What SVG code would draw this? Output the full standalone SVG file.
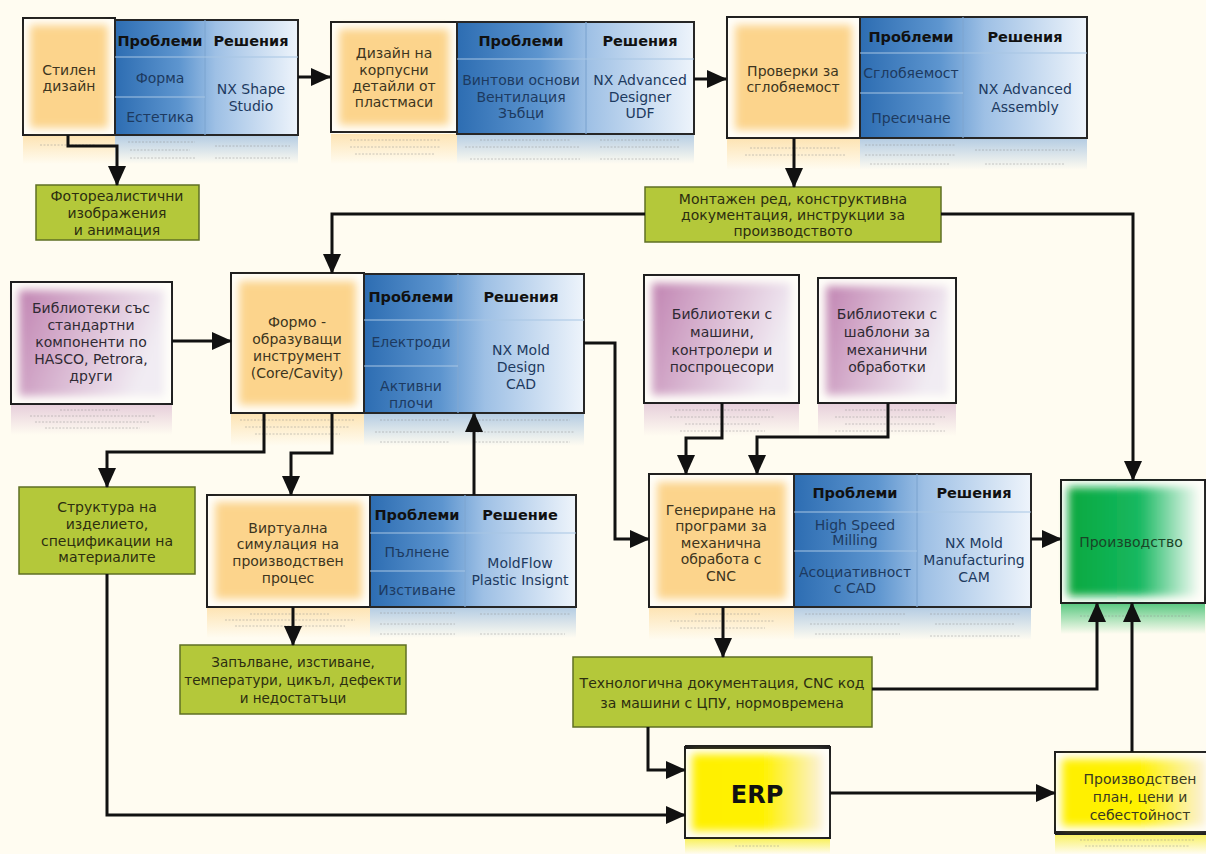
<svg xmlns="http://www.w3.org/2000/svg" width="1206" height="854" viewBox="0 0 1206 854">
<defs>
<style>
text{font-family:"DejaVu Sans","Liberation Sans",sans-serif;font-size:14px;text-anchor:middle}
.frame{fill:#fffef9;stroke:#1e1e1e;stroke-width:2}
.tbl{fill:url(#gTbl);stroke:#262626;stroke-width:2}
.div{stroke:#a8c5e4;stroke-width:1.2;fill:none}
.vdiv{stroke:#7fa7d2;stroke-width:1.2;fill:none}
.hd{font-weight:bold;fill:#111;font-size:14.5px}
.tb{fill:#1d3a60}
.ot{fill:#3d3520}
.pt{fill:#2f2a33}
.gbox{fill:#b4c83a;stroke:#5f6f25;stroke-width:1.5}
.gt{fill:#2c2e10}
.glowO{fill:#fcd48c}
.glowP{fill:url(#gPur)}
.conn path{fill:none;stroke:#111;stroke-width:3;marker-end:url(#ah)}
.rO{fill:url(#rOr)}
.rB{fill:url(#rBl)}
.rP{fill:url(#rPu)}
.rG{fill:url(#rGr)}
.rY{fill:url(#rYe)}
.sq{stroke:#8a8a8a;stroke-width:1;stroke-dasharray:2 1.5;opacity:.45}
</style>
<filter id="blur" x="-20%" y="-20%" width="140%" height="140%"><feGaussianBlur stdDeviation="4"/></filter>
<linearGradient id="gTbl" x1="0" y1="0" x2="1" y2="0">
<stop offset="0" stop-color="#2d6db2"/><stop offset="0.35" stop-color="#5d95cf"/><stop offset="0.55" stop-color="#9ec0e5"/><stop offset="1" stop-color="#eef4fb"/>
</linearGradient>
<linearGradient id="gPur" x1="0" y1="0" x2="1" y2="0.3">
<stop offset="0" stop-color="#c184b2"/><stop offset="0.5" stop-color="#dab9d3"/><stop offset="1" stop-color="#f1ecf3"/>
</linearGradient>
<linearGradient id="gGrn" x1="0" y1="0" x2="1" y2="0">
<stop offset="0" stop-color="#0aa83f"/><stop offset="0.55" stop-color="#15b860"/><stop offset="1" stop-color="#f3faf3"/>
</linearGradient>
<linearGradient id="gYel" x1="0" y1="0" x2="1" y2="0">
<stop offset="0" stop-color="#fff000"/><stop offset="0.55" stop-color="#fff200"/><stop offset="1" stop-color="#fbf1dc"/>
</linearGradient>
<linearGradient id="rOr" x1="0" y1="0" x2="0" y2="1"><stop offset="0" stop-color="#fcd48c" stop-opacity=".6"/><stop offset="1" stop-color="#fcd48c" stop-opacity="0"/></linearGradient>
<linearGradient id="rBl" x1="0" y1="0" x2="0" y2="1"><stop offset="0" stop-color="#7aa7d8" stop-opacity=".55"/><stop offset="1" stop-color="#7aa7d8" stop-opacity="0"/></linearGradient>
<linearGradient id="rPu" x1="0" y1="0" x2="0" y2="1"><stop offset="0" stop-color="#d7b2cd" stop-opacity=".6"/><stop offset="1" stop-color="#d7b2cd" stop-opacity="0"/></linearGradient>
<linearGradient id="rGr" x1="0" y1="0" x2="0" y2="1"><stop offset="0" stop-color="#19b455" stop-opacity=".7"/><stop offset="1" stop-color="#19b455" stop-opacity="0"/></linearGradient>
<linearGradient id="rYe" x1="0" y1="0" x2="0" y2="1"><stop offset="0" stop-color="#f6ec20" stop-opacity=".7"/><stop offset="1" stop-color="#f6ec20" stop-opacity="0"/></linearGradient>
<marker id="ah" markerUnits="userSpaceOnUse" markerWidth="20" markerHeight="18" viewBox="0 0 20 18" refX="19" refY="9" orient="auto">
<path d="M0,0 L20,9 L0,18 z" fill="#111"/>
</marker>
</defs>
<rect width="1206" height="854" fill="#fffcf1"/>

<g id="n-stilen">
<rect class="rO" x="23" y="136" width="92" height="28"/>
<rect class="rB" x="115" y="136" width="183" height="28"/>
<path class="sq" d="M40,145 H95 M128,142 H195 M130,150 H190 M130,158 H195 M215,146 H290 M215,158 H290"/>
<rect class="frame" x="23" y="18" width="92" height="117"/>
<rect class="glowO" x="30" y="25" width="78" height="103" filter="url(#blur)"/>
<text class="ot" x="69" y="75">Стилен</text>
<text class="ot" x="69" y="91">дизайн</text>
<rect class="tbl" x="115" y="20" width="183" height="115"/>
<path class="vdiv" d="M205,20 V135"/>
<path class="div" d="M115,57 H298 M115,97 H205"/>
<text class="hd" x="160" y="46">Проблеми</text>
<text class="hd" x="251" y="46">Решения</text>
<text class="tb" x="160" y="83">Форма</text>
<text class="tb" x="160" y="122">Естетика</text>
<text class="tb" x="251" y="94">NX Shape</text>
<text class="tb" x="251" y="111">Studio</text>
</g>

<g id="n-foto">
<rect class="gbox" x="36" y="185" width="163" height="55"/>
<text class="gt" x="117" y="201">Фотореалистични</text>
<text class="gt" x="117" y="218">изображения</text>
<text class="gt" x="117" y="235">и анимация</text>
</g>

<g id="n-korpus">
<rect class="rO" x="331" y="134" width="126" height="30"/>
<rect class="rB" x="457" y="134" width="237" height="30"/>
<path class="sq" d="M350,140 H440 M350,147 H440 M355,154 H435 M480,140 H570 M465,147 H580 M600,140 H680 M600,147 H680 M470,159 H580 M600,159 H680"/>
<rect class="frame" x="331" y="22" width="126" height="110"/>
<rect class="glowO" x="339" y="29" width="110" height="96" filter="url(#blur)"/>
<text class="ot" x="394" y="58">Дизайн на</text>
<text class="ot" x="394" y="75">корпусни</text>
<text class="ot" x="394" y="91">детайли от</text>
<text class="ot" x="394" y="107">пластмаси</text>
<rect class="tbl" x="457" y="22" width="237" height="112"/>
<path class="vdiv" d="M586,22 V134"/>
<path class="div" d="M457,59 H694"/>
<text class="hd" x="521" y="46">Проблеми</text>
<text class="hd" x="640" y="46">Решения</text>
<text class="tb" x="521" y="85">Винтови основи</text>
<text class="tb" x="521" y="102">Вентилация</text>
<text class="tb" x="521" y="118">Зъбци</text>
<text class="tb" x="640" y="85">NX Advanced</text>
<text class="tb" x="640" y="102">Designer</text>
<text class="tb" x="640" y="118">UDF</text>
</g>

<g id="n-proverki">
<rect class="rO" x="727" y="139" width="133" height="31"/>
<rect class="rB" x="860" y="139" width="227" height="31"/>
<path class="sq" d="M750,148 H840 M745,155 H845 M865,145 H955 M865,155 H955 M870,164 H950 M975,150 H1075 M985,164 H1065"/>
<rect class="frame" x="727" y="17" width="133" height="121"/>
<rect class="glowO" x="735" y="25" width="117" height="105" filter="url(#blur)"/>
<text class="ot" x="793" y="76">Проверки за</text>
<text class="ot" x="793" y="92">сглобяемост</text>
<rect class="tbl" x="860" y="17" width="227" height="121"/>
<path class="vdiv" d="M963,17 V138"/>
<path class="div" d="M860,53 H1087 M860,93 H963"/>
<text class="hd" x="911" y="42">Проблеми</text>
<text class="hd" x="1025" y="42">Решения</text>
<text class="tb" x="911" y="78">Сглобяемост</text>
<text class="tb" x="911" y="123">Пресичане</text>
<text class="tb" x="1025" y="94">NX Advanced</text>
<text class="tb" x="1025" y="112">Assembly</text>
</g>

<g id="n-montazh">
<rect class="gbox" x="645" y="187" width="296" height="55"/>
<text class="gt" x="793" y="204">Монтажен ред, конструктивна</text>
<text class="gt" x="793" y="220">документация, инструкции за</text>
<text class="gt" x="793" y="236">производството</text>
</g>

<g id="n-biblio-std">
<rect class="rP" x="11" y="405" width="161" height="30"/>
<path class="sq" d="M60,410 H120 M30,416 H155 M35,422 H150 M45,428 H140"/>
<rect class="frame" x="11" y="282" width="161" height="122"/>
<rect class="glowP" x="19" y="290" width="145" height="106" filter="url(#blur)"/>
<text class="pt" x="91" y="313">Библиотеки със</text>
<text class="pt" x="91" y="330">стандартни</text>
<text class="pt" x="91" y="347">компоненти по</text>
<text class="pt" x="91" y="364">HASCO, Petrora,</text>
<text class="pt" x="91" y="381">други</text>
</g>

<g id="n-formo">
<rect class="rO" x="231" y="414" width="133" height="32"/>
<rect class="rB" x="364" y="414" width="220" height="32"/>
<path class="sq" d="M240,420 H355 M245,427 H350 M255,434 H340 M380,420 H450 M375,432 H455 M475,420 H570 M470,432 H575 M380,442 H450 M475,442 H570"/>
<rect class="frame" x="231" y="273" width="133" height="140"/>
<rect class="glowO" x="239" y="281" width="117" height="124" filter="url(#blur)"/>
<text class="ot" x="297" y="327">Формо -</text>
<text class="ot" x="297" y="344">образуващи</text>
<text class="ot" x="297" y="361">инструмент</text>
<text class="ot" x="297" y="378">(Core/Cavity)</text>
<rect class="tbl" x="364" y="274" width="220" height="139"/>
<path class="vdiv" d="M458,274 V413"/>
<path class="div" d="M364,320 H584 M364,366 H458"/>
<text class="hd" x="411" y="302">Проблеми</text>
<text class="hd" x="521" y="302">Решения</text>
<text class="tb" x="411" y="347">Електроди</text>
<text class="tb" x="411" y="391">Активни</text>
<text class="tb" x="411" y="408">плочи</text>
<text class="tb" x="521" y="355">NX Mold</text>
<text class="tb" x="521" y="372">Design</text>
<text class="tb" x="521" y="389">CAD</text>
</g>

<g id="n-biblio-mash">
<rect class="rP" x="644" y="404" width="155" height="32"/>
<path class="sq" d="M675,410 H770 M670,417 H775 M685,424 H760 M680,431 H765"/>
<rect class="frame" x="644" y="275" width="155" height="128"/>
<rect class="glowP" x="652" y="283" width="139" height="112" filter="url(#blur)"/>
<text class="pt" x="722" y="319">Библиотеки с</text>
<text class="pt" x="722" y="337">машини,</text>
<text class="pt" x="722" y="355">контролери и</text>
<text class="pt" x="722" y="372">поспроцесори</text>
</g>

<g id="n-biblio-shabl">
<rect class="rP" x="818" y="404" width="138" height="32"/>
<path class="sq" d="M845,410 H935 M835,417 H945 M845,424 H935 M835,431 H945"/>
<rect class="frame" x="818" y="278" width="138" height="125"/>
<rect class="glowP" x="826" y="286" width="122" height="109" filter="url(#blur)"/>
<text class="pt" x="887" y="319">Библиотеки с</text>
<text class="pt" x="887" y="337">шаблони за</text>
<text class="pt" x="887" y="355">механични</text>
<text class="pt" x="887" y="372">обработки</text>
</g>

<g id="n-struktura">
<rect class="gbox" x="19" y="487" width="176" height="87"/>
<text class="gt" x="107" y="512">Структура на</text>
<text class="gt" x="107" y="529">изделието,</text>
<text class="gt" x="107" y="546">спецификации на</text>
<text class="gt" x="107" y="562">материалите</text>
</g>

<g id="n-virtual">
<rect class="rO" x="207" y="608" width="163" height="30"/>
<rect class="rB" x="370" y="608" width="206" height="30"/>
<path class="sq" d="M250,614 H330 M225,620 H355 M235,626 H345 M380,613 H455 M380,624 H455 M380,634 H455 M480,614 H570 M480,634 H565"/>
<rect class="frame" x="207" y="495" width="163" height="112"/>
<rect class="glowO" x="215" y="502" width="147" height="97" filter="url(#blur)"/>
<text class="ot" x="288" y="533">Виртуална</text>
<text class="ot" x="288" y="549">симулация на</text>
<text class="ot" x="288" y="566">производствен</text>
<text class="ot" x="288" y="583">процес</text>
<rect class="tbl" x="370" y="495" width="206" height="112"/>
<path class="vdiv" d="M465,495 V607"/>
<path class="div" d="M370,533 H576 M370,571 H465"/>
<text class="hd" x="417" y="520">Проблеми</text>
<text class="hd" x="520" y="520">Решение</text>
<text class="tb" x="417" y="557">Пълнене</text>
<text class="tb" x="417" y="595">Изстиване</text>
<text class="tb" x="520" y="568">MoldFlow</text>
<text class="tb" x="520" y="585">Plastic Insignt</text>
</g>

<g id="n-zapalvane">
<rect class="gbox" x="180" y="645" width="226" height="69"/>
<text class="gt" x="293" y="667" style="font-size:13.5px">Запълване, изстиване,</text>
<text class="gt" x="293" y="685" style="font-size:13.5px">температури, цикъл, дефекти</text>
<text class="gt" x="293" y="703" style="font-size:13.5px">и недостатъци</text>
</g>

<g id="n-generirane">
<rect class="rO" x="649" y="608" width="145" height="32"/>
<rect class="rB" x="794" y="608" width="237" height="32"/>
<path class="sq" d="M695,614 H760 M670,621 H775 M680,628 H765 M805,614 H905 M810,624 H900 M815,634 H900 M930,614 H1020 M935,624 H1015 M930,636 H1020"/>
<rect class="frame" x="649" y="474" width="145" height="133"/>
<rect class="glowO" x="657" y="482" width="129" height="117" filter="url(#blur)"/>
<text class="ot" x="721" y="515">Генериране на</text>
<text class="ot" x="721" y="531">програми за</text>
<text class="ot" x="721" y="548">механична</text>
<text class="ot" x="721" y="564">обработа с</text>
<text class="ot" x="721" y="581">CNC</text>
<rect class="tbl" x="794" y="474" width="237" height="133"/>
<path class="vdiv" d="M917,474 V607"/>
<path class="div" d="M794,512 H1031 M794,551 H917"/>
<text class="hd" x="855" y="498">Проблеми</text>
<text class="hd" x="974" y="498">Решения</text>
<text class="tb" x="855" y="530">High Speed</text>
<text class="tb" x="855" y="545">Milling</text>
<text class="tb" x="855" y="577">Асоциативност</text>
<text class="tb" x="855" y="593">с CAD</text>
<text class="tb" x="974" y="548">NX Mold</text>
<text class="tb" x="974" y="565">Manufacturing</text>
<text class="tb" x="974" y="582">CAM</text>
</g>

<g id="n-proizvodstvo">
<rect class="rG" x="1061" y="604" width="144" height="30"/>
<path class="sq" d="M1080,616 H1190"/>
<rect class="frame" x="1061" y="480" width="144" height="123"/>
<rect x="1068" y="487" width="130" height="109" fill="url(#gGrn)" filter="url(#blur)"/>
<text x="1131" y="547" fill="#1a4527">Производство</text>
</g>

<g id="n-tehnolog">
<rect class="gbox" x="573" y="657" width="299" height="70"/>
<text class="gt" x="722" y="688">Технологична документация, CNC код</text>
<text class="gt" x="722" y="708">за машини с ЦПУ, нормовремена</text>
</g>

<g id="n-erp">
<rect class="rY" x="685" y="839" width="145" height="15"/>
<path class="sq" d="M735,846 H780"/>
<rect class="frame" x="685" y="747" width="145" height="91"/>
<path d="M685,747 H830" stroke="#1e1e1e" stroke-width="4"/>
<rect x="692" y="754" width="131" height="77" fill="url(#gYel)" filter="url(#blur)"/>
<text x="757" y="803" style="font-size:24px;font-weight:bold" fill="#111">ERP</text>
</g>

<g id="n-plan">
<rect class="rY" x="1055" y="834" width="155" height="20"/>
<path class="sq" d="M1080,840 H1195 M1085,846 H1190"/>
<rect class="frame" x="1055" y="752" width="155" height="81"/>
<path d="M1055,833 H1210" stroke="#1e1e1e" stroke-width="4"/>
<rect x="1062" y="759" width="144" height="67" fill="url(#gYel)" filter="url(#blur)"/>
<text x="1140" y="784" fill="#3a3a20">Производствен</text>
<text x="1140" y="802" fill="#3a3a20">план, цени и</text>
<text x="1140" y="820" fill="#3a3a20">себестойност</text>
</g>

<g class="conn" id="connectors">
<path d="M298,77 H330"/>
<path d="M694,79 H726"/>
<path d="M68,135 V146 H117 V185"/>
<path d="M794,138 V187"/>
<path d="M645,214 H332 V273"/>
<path d="M941,214 H1133 V480"/>
<path d="M172,341 H231"/>
<path d="M264,413 V452 H107 V487"/>
<path d="M332,413 V453 H291 V495"/>
<path d="M474,495 V413"/>
<path d="M584,343 H615 V539 H649"/>
<path d="M722,403 V438 H686 V474"/>
<path d="M888,403 V437 H757 V474"/>
<path d="M1031,539 H1061"/>
<path d="M723,607 V657"/>
<path d="M293,607 V645"/>
<path d="M872,689 H1097 V603"/>
<path d="M648,727 V770 H685"/>
<path d="M107,574 V815 H685"/>
<path d="M830,793 H1055"/>
<path d="M1132,752 V603"/>
</g>
</svg>
